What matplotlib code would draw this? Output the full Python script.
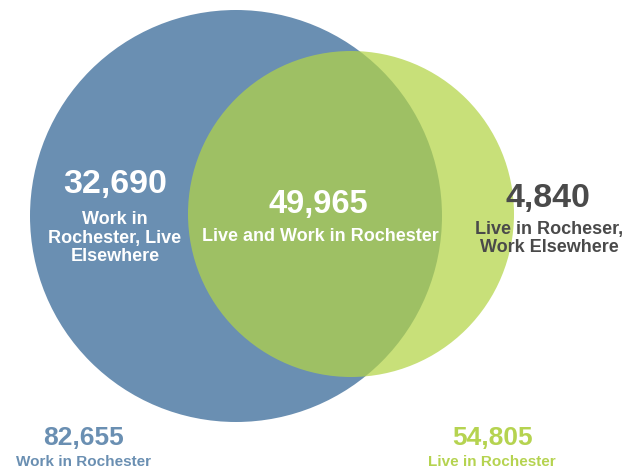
import matplotlib
matplotlib.use("Agg")
import matplotlib.pyplot as plt
from matplotlib.patches import Circle

plt.rcParams["font.family"] = ["Liberation Sans", "DejaVu Sans"]

# commuter counts
work_only = 32690
both = 49965
live_only = 4840
work_total = 82655
live_total = 54805

work_only_label = "Work in\nRochester, Live\nElsewhere"
both_label = "Live and Work in Rochester"
live_only_label = "Live in Rocheser,\nWork Elsewhere"
work_total_label = "Work in Rochester"
live_total_label = "Live in Rochester"

BLUE = "#6a8fb2"
GREEN = "#b3d446"
GREEN_TEXT = "#b5d350"
GREY = "#4a4a4a"

fig = plt.figure(figsize=(6.34, 4.70), dpi=100)
ax = fig.add_axes([0, 0, 1, 1])
ax.set_xlim(0, 634)
ax.set_ylim(470, 0)
ax.set_aspect("equal")
ax.axis("off")

# circles (pixel layout)
ax.add_patch(Circle((236, 216), 206, facecolor=BLUE, edgecolor="none"))
ax.add_patch(Circle((351, 214), 163, facecolor=GREEN, edgecolor="none", alpha=0.72))

def fmt(v):
    return f"{v:,}"

# region labels
ax.text(115, 185, fmt(work_only), color="white", fontsize=24.5, fontweight="bold",
        ha="center", va="center")
ax.text(115, 238, work_only_label, color="white", fontsize=13, fontweight="bold",
        ha="center", va="center", multialignment="center", linespacing=1.13)

ax.text(318, 205, fmt(both), color="white", fontsize=23.5, fontweight="bold",
        ha="center", va="center")
ax.text(320, 236.5, both_label, color="white", fontsize=13, fontweight="bold",
        ha="center", va="center")

ax.text(548, 198, fmt(live_only), color=GREY, fontsize=24.5, fontweight="bold",
        ha="center", va="center")
ax.text(549, 238.5, live_only_label, color=GREY, fontsize=13, fontweight="bold",
        ha="center", va="center", multialignment="center", linespacing=1.13)

# totals below
ax.text(83, 438, fmt(work_total), color=BLUE, fontsize=19, fontweight="bold",
        ha="center", va="center")
ax.text(83, 462, work_total_label, color=BLUE, fontsize=11, fontweight="bold",
        ha="center", va="center")
ax.text(493, 438, fmt(live_total), color=GREEN_TEXT, fontsize=19, fontweight="bold",
        ha="center", va="center")
ax.text(492, 462, live_total_label, color=GREEN_TEXT, fontsize=11, fontweight="bold",
        ha="center", va="center")

fig.savefig("out.png", dpi=100, facecolor="white")
